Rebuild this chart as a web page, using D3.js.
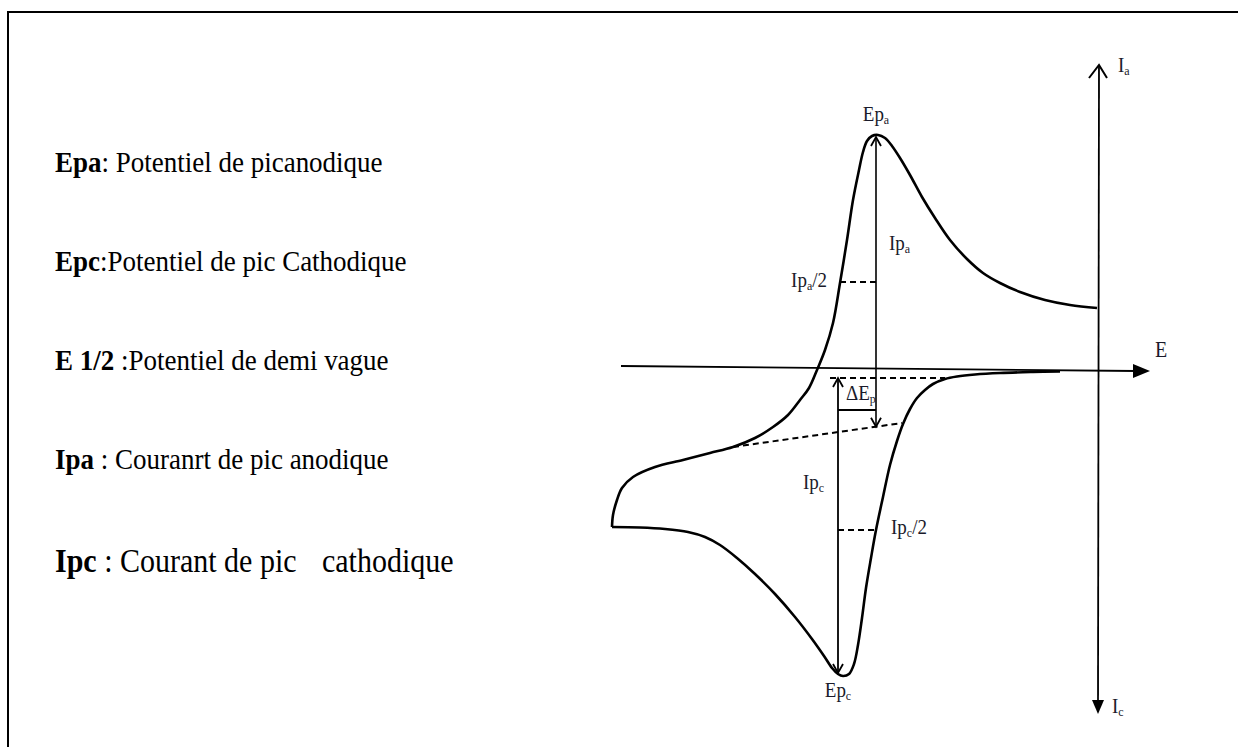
<!DOCTYPE html>
<html>
<head>
<meta charset="utf-8">
<script src="https://cdn.jsdelivr.net/npm/d3@7"></script>
<style>
  html, body { margin: 0; padding: 0; background: #fff; }
  svg { display: block; font-family: "Liberation Serif", "Times New Roman", serif; }
</style>
</head>
<body>
<div id="cv-chart"></div>
<script>
// legend on the left
const terms = ["Epa", "Epc", "E 1/2", "Ipa", "Ipc"];
const definitions = [
  ": Potentiel de picanodique",
  ":Potentiel de pic Cathodique",
  " :Potentiel de demi vague",
  " : Couranrt de pic anodique",
  " : Courant de pic"
];
const definitionTails = ["", "", "", "", "cathodique"];

// voltammogram, E (arbitrary units) vs I (arbitrary units)
// aller : from the right end, through the anodic peak, to the left turning point
const forwardE = [48.5, 45.8, 43.3, 40.8, 38.8, 37.1, 35.5, 33.8, 32.3, 31.0, 29.8, 28.8, 28.0, 27.3,
  26.6, 26.0, 25.5, 25.1, 24.7, 24.1, 23.5, 22.8, 22.1, 21.3, 20.5, 19.7, 18.8, 17.6, 16.1, 14.3,
  12.1, 9.8, 7.1, 4.3, 2.1, 1.0, 0.5, 0.1, 0.0];
const forwardI = [6.2, 6.5, 7.0, 7.8, 8.7, 9.7, 11.1, 13.0, 15.2, 17.3, 19.5, 21.2, 22.4, 23.2,
  23.5, 23.4, 22.9, 21.8, 20.0, 17.0, 13.0, 8.7, 4.7, 2.0, 0.0, -1.8, -3.0, -4.5, -5.7, -6.8,
  -7.7, -8.3, -9.0, -9.7, -10.7, -11.8, -13.0, -14.5, -15.7];
// retour : through the cathodic peak back to the axis
const reverseE = [0.0, 2.8, 5.3, 7.6, 9.3, 10.8, 12.5, 14.3, 16.3, 18.3, 20.0, 21.2, 22.0, 22.6,
  23.1, 23.7, 24.2, 24.6, 25.0, 25.4, 25.9, 26.4, 27.1, 27.8, 28.5, 29.1, 29.8, 30.5, 31.3, 32.1,
  33.3, 34.5, 36.3, 38.8, 42.1, 44.8];
const reverseI = [-15.7, -15.75, -15.9, -16.2, -16.7, -17.5, -18.8, -20.4, -22.4, -24.7, -26.9,
  -28.6, -29.8, -30.4, -30.6, -30.4, -29.4, -27.5, -24.8, -21.8, -18.8, -16.0, -12.7, -9.5, -7.1,
  -5.4, -3.9, -2.8, -2.0, -1.4, -0.9, -0.65, -0.45, -0.3, -0.2, -0.15];

// characteristic values
const peakA = { E: 26.4, I: 23.5 };
const peakC = { E: 22.6, I: -30.5 };
const halfA = { E0: 22.8, I: 8.8 };
const halfC = { E1: 26.5, I: -16.0 };
const baseA = { E: [12.1, 29.0], I: [-7.7, -5.3] };
const baseC = { E: [21.8, 33.3], I: [-0.8, -0.8] };
const deltaI = -4.0;
const axisE = 48.7;
const axisEnds = { Emin: 0.9, Emax: 53.8, Imin: -34.2, Imax: 30.5 };

const width = 1238, height = 747;

const svg = d3.select("#cv-chart").append("svg")
  .attr("width", width)
  .attr("height", height);

// frame
svg.append("line").attr("x1", 7).attr("x2", width).attr("y1", 12).attr("y2", 12)
  .attr("stroke", "#000").attr("stroke-width", 2);
svg.append("line").attr("x1", 8).attr("x2", 8).attr("y1", 12).attr("y2", height)
  .attr("stroke", "#000").attr("stroke-width", 2);

// legend text
const rowY = d3.scalePoint().domain(terms).range([172, 568]);
const stretch = 1.13;

terms.forEach((t, i) => {
  const last = i === terms.length - 1;
  const fs = last ? 30 : 27;
  const g = svg.append("g")
    .attr("transform", `translate(55, ${rowY(t) + (last ? 4 : 0)}) scale(1, ${stretch})`);
  const txt = g.append("text")
    .attr("x", 0).attr("y", 0)
    .style("font-size", fs + "px")
    .style("white-space", "pre")
    .attr("fill", "#000");
  txt.append("tspan").style("font-weight", "bold").text(t);
  txt.append("tspan").text(definitions[i]);
  if (definitionTails[i]) {
    txt.append("tspan").attr("x", 267).text(definitionTails[i]);
  }
});

// scales
const x = d3.scaleLinear().domain([0, 50]).range([612, 1112]);
const y = d3.scaleLinear().domain([-30, 25]).range([670, 120]);

const plot = svg.append("g");

// axes
plot.append("line")
  .attr("x1", x(axisEnds.Emin)).attr("y1", y(0.4))
  .attr("x2", x(axisEnds.Emax) - 14).attr("y2", y(-0.1))
  .attr("stroke", "#000").attr("stroke-width", 1.8);
plot.append("path")
  .attr("d", `M${x(axisEnds.Emax)},${y(-0.1)} L${x(axisEnds.Emax) - 17},${y(-0.1) - 7} L${x(axisEnds.Emax) - 17},${y(-0.1) + 7} Z`)
  .attr("fill", "#000");

plot.append("line")
  .attr("x1", x(axisE)).attr("y1", y(axisEnds.Imax))
  .attr("x2", x(axisE) - 1).attr("y2", y(axisEnds.Imin) - 8)
  .attr("stroke", "#000").attr("stroke-width", 1.8);
plot.append("path")
  .attr("d", `M${x(axisE) - 10},${y(axisEnds.Imax) + 13} L${x(axisE)},${y(axisEnds.Imax)} L${x(axisE) + 8},${y(axisEnds.Imax) + 13}`)
  .attr("fill", "none").attr("stroke", "#000").attr("stroke-width", 2);
plot.append("path")
  .attr("d", `M${x(axisE) - 1},${y(axisEnds.Imin) + 2} L${x(axisE) - 7},${y(axisEnds.Imin) - 12} L${x(axisE) + 5},${y(axisEnds.Imin) - 12} Z`)
  .attr("fill", "#000");

// curve
const line = d3.line()
  .x(d => x(d[0]))
  .y(d => y(d[1]))
  .curve(d3.curveCatmullRom.alpha(0.5));

const forward = forwardE.map((e, i) => [e, forwardI[i]]);
const reverse = reverseE.map((e, i) => [e, reverseI[i]]);

plot.append("path").datum(forward)
  .attr("d", line)
  .attr("fill", "none").attr("stroke", "#000").attr("stroke-width", 2.6)
  .attr("stroke-linejoin", "round");
plot.append("path").datum(reverse)
  .attr("d", line)
  .attr("fill", "none").attr("stroke", "#000").attr("stroke-width", 2.6)
  .attr("stroke-linejoin", "round");

// dashed base lines
const dash = (e0, i0, e1, i1, w) => plot.append("line")
  .attr("x1", x(e0)).attr("y1", y(i0)).attr("x2", x(e1)).attr("y2", y(i1))
  .attr("stroke", "#000").attr("stroke-width", w || 2)
  .attr("stroke-dasharray", "6,4");

dash(baseA.E[0], baseA.I[0], baseA.E[1], baseA.I[1]);
dash(baseC.E[0], baseC.I[0], baseC.E[1], baseC.I[1]);
dash(halfA.E0, halfA.I, peakA.E, halfA.I, 2.2);
dash(peakC.E, halfC.I, halfC.E1, halfC.I, 2.2);

// Ip arrows
const chevron = (px, py, dir) =>
  `M${px - 5},${py - dir * 9} L${px},${py} L${px + 5},${py - dir * 9}`;

const ipaBottom = baseA.I[0] + (baseA.I[1] - baseA.I[0]) * (peakA.E - baseA.E[0]) / (baseA.E[1] - baseA.E[0]);

plot.append("line")
  .attr("x1", x(peakA.E)).attr("y1", y(peakA.I) + 2)
  .attr("x2", x(peakA.E)).attr("y2", y(ipaBottom))
  .attr("stroke", "#000").attr("stroke-width", 1.6);
plot.append("path").attr("d", chevron(x(peakA.E), y(peakA.I) + 2, -1))
  .attr("fill", "none").attr("stroke", "#000").attr("stroke-width", 1.8);
plot.append("path").attr("d", chevron(x(peakA.E), y(ipaBottom), 1))
  .attr("fill", "none").attr("stroke", "#000").attr("stroke-width", 1.8);

plot.append("line")
  .attr("x1", x(peakC.E)).attr("y1", y(baseC.I[0]))
  .attr("x2", x(peakC.E)).attr("y2", y(peakC.I) - 2)
  .attr("stroke", "#000").attr("stroke-width", 1.8);
plot.append("path").attr("d", chevron(x(peakC.E), y(baseC.I[0]), -1))
  .attr("fill", "none").attr("stroke", "#000").attr("stroke-width", 1.8);
plot.append("path").attr("d", chevron(x(peakC.E), y(peakC.I) - 2, 1))
  .attr("fill", "none").attr("stroke", "#000").attr("stroke-width", 1.8);

// delta Ep bracket
plot.append("line")
  .attr("x1", x(peakC.E)).attr("y1", y(deltaI))
  .attr("x2", x(peakA.E)).attr("y2", y(deltaI))
  .attr("stroke", "#000").attr("stroke-width", 1.8);

// labels
const label = (px, py, main, sub, after, anchor, fs) => {
  const g = plot.append("g")
    .attr("transform", `translate(${px}, ${py}) scale(1, 1.12)`);
  const t = g.append("text")
    .attr("text-anchor", anchor || "start")
    .style("font-size", (fs || 19) + "px")
    .attr("fill", "#1a1a2a");
  t.append("tspan").text(main);
  if (sub) t.append("tspan").attr("dy", 3).style("font-size", "12px").text(sub);
  if (after) t.append("tspan").attr("dy", -3).text(after);
};

label(x(peakA.E), y(peakA.I) - 14, "Ep", "a", null, "middle");
label(x(peakA.E) + 13, y(peakA.I) + 115, "Ip", "a");
label(x(halfA.E0) - 13, y(halfA.I) + 5, "Ip", "a", "/2", "end");
label(x(peakC.E) + 8, y(deltaI) - 10, "\u0394E", "p");
label(x(peakC.E) - 35, y(peakC.I) - 186, "Ip", "c");
label(x(halfC.E1) + 14, y(halfC.I) + 4, "Ip", "c", "/2");
label(x(peakC.E), y(peakC.I) + 22, "Ep", "c", null, "middle");
label(x(axisE) + 19, y(axisEnds.Imax) + 7, "I", "a");
label(x(axisE) + 13, y(axisEnds.Imin) + 1, "I", "c");
label(x(axisEnds.Emax) + 5, y(1.3), "E", null, null, "start", 20);
</script>
</body>
</html>
